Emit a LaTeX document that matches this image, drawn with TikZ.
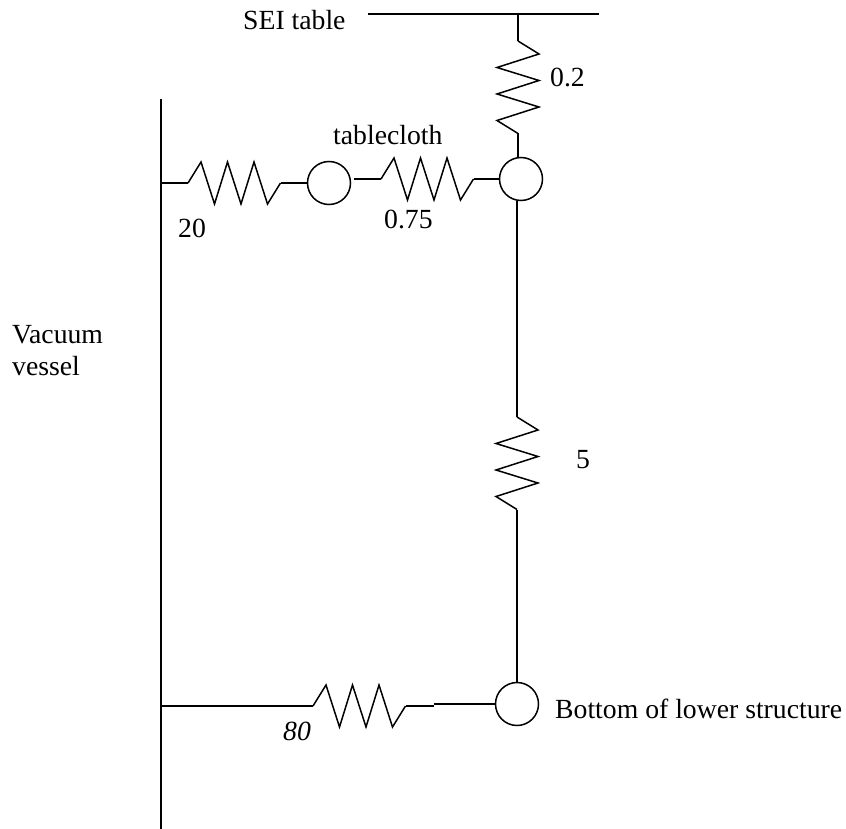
\documentclass[tikz,border=0pt]{standalone}
\usepackage{fontspec}
\setmainfont{Liberation Serif}
\tikzset{
    wire/.style={line width=1.5pt, line join=miter},
    mass/.style={circle, draw, line width=1.5pt, minimum size=43pt, inner sep=0pt, outer sep=0pt},
    lbl/.style={font=\fontsize{27.7}{32}\selectfont, inner sep=0pt, anchor=base west}
}
% zigzag springs between two named coordinates
\newcommand{\hspring}[1]{\draw[wire] (#1) -- ++(13,-21) -- ++(13.5,42) -- ++(13,-42) -- ++(13.5,42) -- ++(13,-42) -- ++(13.5,42) -- ++(13,-21);}
\newcommand{\vspring}[1]{\draw[wire] (#1) -- ++(21,13) -- ++(-42,13.5) -- ++(42,13) -- ++(-42,13.5) -- ++(42,13) -- ++(-42,13.5) -- ++(21,13);}
\begin{document}
\begin{tikzpicture}[x=1pt, y=-1pt]
    \useasboundingbox (0,0) rectangle (846,829);
    % Masses
    \node[mass] (cloth) at (329,183) {};
    \node[mass] (table) at (521,179) {};
    \node[mass] (bottom) at (517,704) {};
    % Vessel wall and table top
    \coordinate (wallt) at (161,99);
    \coordinate (wallb) at (161,829);
    \draw[wire] (wallt) -- (wallb);
    \coordinate (seia) at (368,14);
    \coordinate (seib) at (599,14);
    \draw[wire] (seia) -- (seib);
    % Table to tablecloth junction
    \coordinate (seic) at (518,14);
    \coordinate (ra) at (518,41);
    \draw[wire] (seic) -- (ra);
    \vspring{ra}
    \coordinate (rb) at (518,133);
    \coordinate (rc) at (518,158);
    \draw[wire] (rb) -- (rc);
    % Wall to tablecloth
    \coordinate (wa) at (161,183);
    \coordinate (sa) at (188,183);
    \coordinate (sb) at (281,183);
    \draw[wire] (wa) -- (sa);
    \hspring{sa}
    \draw[wire] (sb) -- (cloth.west);
    % Tablecloth to table
    \coordinate (ca) at (354,179);
    \coordinate (cb) at (381,179);
    \coordinate (cc) at (474,179);
    \draw[wire] (ca) -- (cb);
    \hspring{cb}
    \draw[wire] (cc) -- (table.west);
    % Down to the lower structure
    \coordinate (da) at (517,201);
    \coordinate (db) at (517,417);
    \coordinate (dc) at (517,510);
    \draw[wire] (da) -- (db);
    \vspring{db}
    \draw[wire] (dc) -- (bottom.north);
    % Wall to bottom
    \coordinate (ba) at (161,706);
    \coordinate (bb) at (313,706);
    \coordinate (bc) at (406,706);
    \coordinate (bd) at (434,706);
    \coordinate (be) at (434,704);
    \draw[wire] (ba) -- (bb);
    \hspring{bb}
    \draw[wire] (bc) -- (bd);
    \draw[wire] (be) -- (bottom.west);
    % Labels
    \node[lbl] (seilbl) at (243,30) {SEI table};
    \node[lbl] (k1) at (550,87) {0.2};
    \node[lbl] (clothlbl) at (333,145) {tablecloth};
    \node[lbl] (k2) at (384,229) {0.75};
    \node[lbl] (k3) at (178,238) {20};
    \node[lbl] (vessela) at (12,343) {Vacuum};
    \node[lbl] (vesselb) at (12,375) {vessel};
    \node[lbl] (k4) at (576,468) {5};
    \node[lbl, font=\fontsize{27.7}{32}\selectfont\itshape] (k5) at (283,740) {80};
    \node[lbl] (bottomlbl) at (555,718) {Bottom of lower structure};
\end{tikzpicture}
\end{document}
